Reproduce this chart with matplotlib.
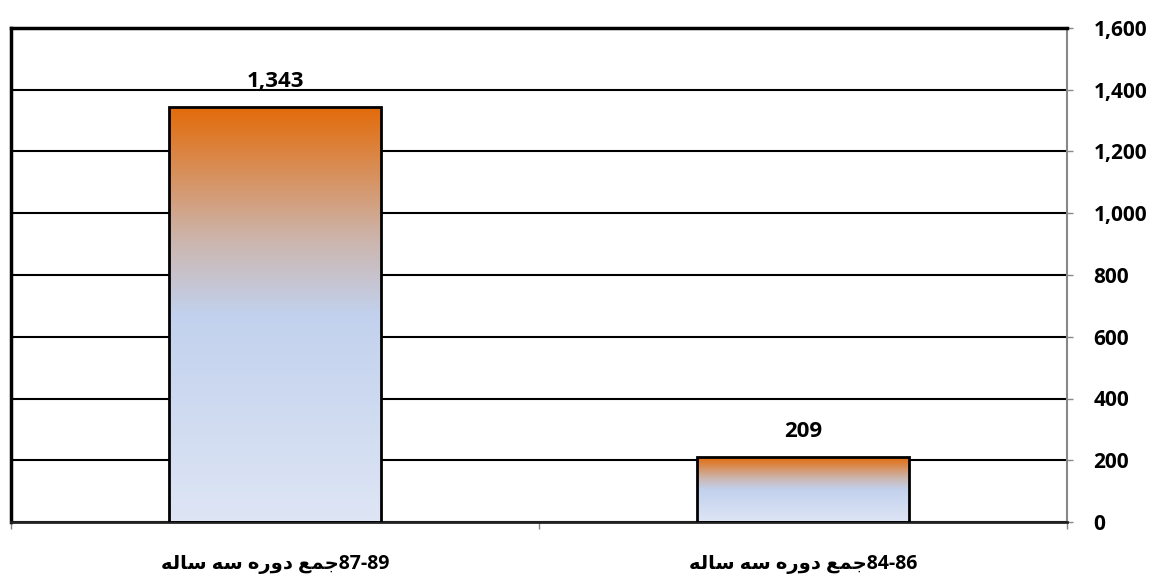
import numpy as np
import matplotlib
matplotlib.use("Agg")
import matplotlib.pyplot as plt
from matplotlib.colors import LinearSegmentedColormap
from matplotlib.ticker import FuncFormatter

# data
periods = ["87-89", "84-86"]
totals = [1343, 209]
# "جمع دوره سه ساله" written in visual order with presentation forms,
# matplotlib does no arabic shaping / bidi itself
label_fa = "\uFEEA\uFEDF\uFE8E\uFEB3 \uFEEA\uFEB3 \uFEE9\uFEAD\uFEED\uFEA9 \uFECA\uFEE4\uFE9F"
yticks = [0, 200, 400, 600, 800, 1000, 1200, 1400, 1600]

plt.rcParams['font.family'] = ['Open Sans', 'DejaVu Sans']
plt.rcParams['font.weight'] = 'bold'

fig = plt.figure(figsize=(11.55, 5.81), dpi=100)
ax = fig.add_axes([11/1155, 59/581, 1056/1155, 494/581])

grad = LinearSegmentedColormap.from_list("bar", [
    (0.0, (0.87, 0.90, 0.96)),
    (0.5, (0.76, 0.82, 0.93)),
    (0.68, (0.80, 0.71, 0.68)),
    (1.0, (0.89, 0.42, 0.04)),
])

x = np.arange(len(totals))
w = 0.4
bars = ax.bar(x, totals, w, facecolor='none', edgecolor='black', linewidth=2, zorder=3)
for b in bars:
    x0 = b.get_x()
    h = b.get_height()
    g = np.linspace(0, 1, 256).reshape(-1, 1)
    ax.imshow(g, cmap=grad, origin='lower', aspect='auto',
              extent=[x0, x0 + w, 0, h], zorder=2)

ax.bar_label(bars, labels=[f"{v:,}" for v in totals], padding=11,
             fontsize=16, fontweight='bold')

ax.set_xlim(-0.5, 1.5)
ax.set_ylim(0, 1600)

# y axis on the right
ax.yaxis.tick_right()
ax.set_yticks(yticks)
ax.yaxis.set_major_formatter(FuncFormatter(lambda v, p: f"{int(v):,}"))
ax.tick_params(axis='y', length=4, width=1, color='#888888', pad=15, labelsize=15)
for t in ax.get_yticklabels():
    t.set_fontweight('bold')

ax.set_xticks([-0.5, 0.5, 1.5])
ax.set_xticklabels([])
ax.tick_params(axis='x', length=5, width=1, color='#888888', direction='out')

for i, p in enumerate(periods):
    ax.text(x[i], -0.085, label_fa + p,
            transform=ax.get_xaxis_transform(), ha='center', va='center',
            fontsize=14, fontweight='bold')

ax.yaxis.grid(True, color='black', linewidth=1.5)
ax.set_axisbelow(True)

ax.spines['left'].set_color('black')
ax.spines['left'].set_linewidth(2.5)
ax.spines['top'].set_color('black')
ax.spines['top'].set_linewidth(2.5)
ax.spines['right'].set_color('#888888')
ax.spines['right'].set_linewidth(1.5)
ax.spines['bottom'].set_color('#222222')
ax.spines['bottom'].set_linewidth(2)

fig.savefig("out.png", dpi=100)
